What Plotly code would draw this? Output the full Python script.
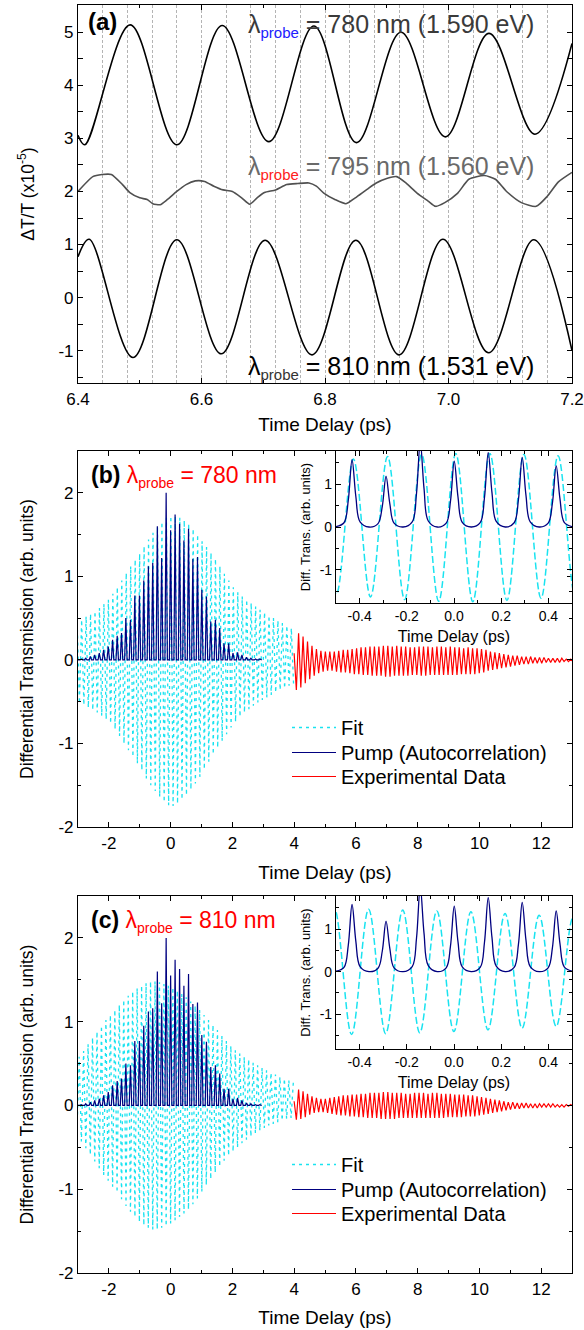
import plotly.graph_objects as go

W, H = 584, 1330

# ---------------- panel (a): 6.4-7.2 ps window ----------------
a780_t = [6.400, 6.411, 6.4845, 6.560, 6.6335, 6.709, 6.782, 6.851, 6.923, 6.995, 7.0655, 7.140, 7.200]
a780_y = [3.06, 2.88, 5.14, 2.88, 5.13, 2.94, 5.12, 2.92, 5.00, 3.03, 4.98, 3.08, 4.79]

a810_t = [6.400, 6.418, 6.489, 6.560, 6.632, 6.703, 6.779, 6.850, 6.920, 6.991, 7.065, 7.138, 7.200]
a810_y = [0.77, 1.10, -1.13, 1.09, -1.06, 1.08, -1.08, 1.08, -1.08, 1.10, -1.04, 1.09, -1.00]

a795_t = [6.400, 6.424, 6.439, 6.454, 6.472, 6.484, 6.500, 6.512, 6.521, 6.533, 6.545, 6.560,
          6.575, 6.590, 6.605, 6.620, 6.635, 6.650, 6.665, 6.678, 6.690, 6.702, 6.720, 6.738,
          6.756, 6.774, 6.786, 6.798, 6.816, 6.834, 6.849, 6.868, 6.883, 6.901, 6.916, 6.931,
          6.949, 6.967, 6.979, 6.994, 7.015, 7.033, 7.058, 7.076, 7.094, 7.118, 7.142, 7.160,
          7.178, 7.200]
a795_y = [2.00, 2.28, 2.32, 2.32, 2.13, 1.98, 1.88, 1.85, 1.77, 1.75, 1.85, 2.00,
          2.13, 2.20, 2.19, 2.10, 2.03, 2.00, 1.88, 1.76, 1.88, 1.98, 2.03, 2.13,
          2.15, 2.16, 2.10, 1.97, 1.85, 1.77, 1.88, 2.04, 2.16, 2.25, 2.28, 2.16,
          1.97, 1.82, 1.72, 1.79, 1.97, 2.23, 2.30, 2.23, 2.00, 1.79, 1.72, 1.91,
          2.18, 2.36]

# ---------------- panels (b) and (c) ----------------
PERIOD = 0.1445  # oscillation period (ps)

pump_t = [-2.89, -2.75, -2.60, -2.46, -2.31, -2.17, -2.02, -1.88, -1.73, -1.59,
          -1.45, -1.30, -1.16, -1.01, -0.87, -0.72, -0.58, -0.43, -0.29, -0.145,
          0.0, 0.145, 0.29, 0.43, 0.58, 0.72, 0.87, 1.01, 1.16, 1.30,
          1.45, 1.59, 1.73, 1.88, 2.02, 2.17, 2.31, 2.46, 2.60, 2.75, 2.89]
pump_h = [0.01, 0.02, 0.04, 0.06, 0.08, 0.12, 0.16, 0.24, 0.29, 0.32,
          0.50, 0.48, 0.77, 0.77, 0.95, 1.12, 1.16, 1.60, 1.22, 2.00,
          1.55, 1.74, 1.63, 1.43, 1.57, 1.21, 1.23, 0.84, 0.76, 0.46,
          0.48, 0.38, 0.20, 0.20, 0.08, 0.09, 0.06, 0.03, 0.02, 0.01, 0.01]

inset_pump_t = [-0.500, -0.466, -0.448, -0.432, -0.416, -0.398, -0.360,
                -0.322, -0.304, -0.288, -0.272, -0.254, -0.216,
                -0.177, -0.159, -0.143, -0.127, -0.109, -0.071,
                -0.033, -0.015, 0.001, 0.017, 0.035, 0.073,
                0.111, 0.129, 0.145, 0.161, 0.179, 0.217,
                0.255, 0.273, 0.289, 0.305, 0.323, 0.361,
                0.399, 0.417, 0.433, 0.449, 0.467, 0.500]
inset_pump_y = [0.01, 0.10, 0.62, 1.58, 0.72, 0.12, 0.00,
                0.08, 0.48, 1.19, 0.55, 0.09, 0.00,
                0.12, 0.78, 2.00, 0.90, 0.14, 0.00,
                0.09, 0.60, 1.54, 0.70, 0.11, 0.00,
                0.10, 0.68, 1.74, 0.80, 0.13, 0.00,
                0.10, 0.64, 1.63, 0.74, 0.12, 0.00,
                0.09, 0.56, 1.43, 0.66, 0.11, 0.01]

# fit (b): first extremum is a peak at -3.027 ps
fit_b_t0 = -3.027
fit_b_peaks = [0.46, 0.48, 0.52, 0.55, 0.58, 0.62, 0.67, 0.72, 0.79, 0.87,
               0.95, 1.04, 1.12, 1.20, 1.27, 1.36, 1.44, 1.52, 1.59, 1.65,
               1.70, 1.72, 1.72, 1.70, 1.67, 1.63, 1.57, 1.50, 1.42, 1.35,
               1.28, 1.21, 1.12, 1.03, 0.95, 0.87, 0.81, 0.76, 0.72, 0.68,
               0.64, 0.60, 0.57, 0.53, 0.50, 0.47, 0.44, 0.41, 0.38]
fit_b_troughs = [-0.52, -0.54, -0.57, -0.60, -0.63, -0.67, -0.71, -0.76, -0.83, -0.91,
                 -1.00, -1.08, -1.16, -1.24, -1.32, -1.42, -1.50, -1.57, -1.64, -1.70,
                 -1.74, -1.75, -1.72, -1.67, -1.62, -1.55, -1.48, -1.40, -1.31, -1.22,
                 -1.13, -1.05, -0.97, -0.89, -0.81, -0.74, -0.68, -0.63, -0.59, -0.55,
                 -0.51, -0.48, -0.45, -0.42, -0.39, -0.36, -0.34, -0.31, -0.29]

# fit (c): first extremum is a trough at -3.035 ps
fit_c_t0 = -3.035
fit_c_troughs = [-0.36, -0.43, -0.51, -0.59, -0.67, -0.75, -0.83, -0.90, -0.97, -1.04,
                 -1.12, -1.20, -1.27, -1.33, -1.39, -1.43, -1.46, -1.48, -1.48, -1.46,
                 -1.44, -1.41, -1.37, -1.33, -1.29, -1.24, -1.18, -1.11, -1.03, -0.95,
                 -0.88, -0.80, -0.73, -0.66, -0.60, -0.55, -0.50, -0.45, -0.41, -0.37,
                 -0.33, -0.30, -0.27, -0.24, -0.22, -0.20, -0.18, -0.16, -0.15]
fit_c_peaks = [0.58, 0.65, 0.73, 0.81, 0.88, 0.95, 1.02, 1.08, 1.14, 1.20,
               1.26, 1.31, 1.36, 1.40, 1.43, 1.46, 1.48, 1.48, 1.47, 1.45,
               1.43, 1.41, 1.37, 1.33, 1.29, 1.24, 1.19, 1.14, 1.08, 1.02,
               0.96, 0.90, 0.83, 0.77, 0.71, 0.66, 0.62, 0.58, 0.55, 0.51,
               0.48, 0.45, 0.42, 0.39, 0.37, 0.34, 0.32, 0.30, 0.27]

# experimental data, 4-13 ps (peak first, then trough half a period later)
exp_t0 = 4.0
exp_b_peaks = [0.08, 0.32, 0.28, 0.22, 0.17, 0.13, 0.11, 0.10, 0.10, 0.10,
               0.11, 0.12, 0.12, 0.13, 0.14, 0.15, 0.15, 0.16, 0.16, 0.16,
               0.17, 0.17, 0.16, 0.17, 0.16, 0.16, 0.15, 0.15, 0.16, 0.16,
               0.16, 0.15, 0.16, 0.16, 0.15, 0.16, 0.15, 0.15, 0.14, 0.15,
               0.14, 0.14, 0.13, 0.12, 0.10, 0.09, 0.08, 0.07, 0.06, 0.05,
               0.05, 0.04, 0.04, 0.04, 0.03, 0.03, 0.03, 0.02, 0.02, 0.02,
               0.02, 0.01, 0.01]
exp_b_troughs = [-0.36, -0.33, -0.28, -0.23, -0.19, -0.16, -0.14, -0.13, -0.13, -0.14,
                 -0.15, -0.15, -0.16, -0.17, -0.17, -0.18, -0.18, -0.19, -0.19, -0.19,
                 -0.20, -0.20, -0.19, -0.19, -0.19, -0.19, -0.18, -0.18, -0.19, -0.19,
                 -0.18, -0.18, -0.18, -0.18, -0.18, -0.18, -0.18, -0.17, -0.17, -0.17,
                 -0.17, -0.16, -0.15, -0.13, -0.12, -0.11, -0.10, -0.09, -0.08, -0.07,
                 -0.06, -0.05, -0.05, -0.04, -0.04, -0.04, -0.03, -0.03, -0.03, -0.03,
                 -0.02, -0.02, -0.02]
exp_c_peaks = [0.05, 0.19, 0.17, 0.14, 0.11, 0.09, 0.08, 0.08, 0.09, 0.10,
               0.11, 0.12, 0.12, 0.13, 0.13, 0.14, 0.14, 0.15, 0.15, 0.15,
               0.16, 0.16, 0.15, 0.15, 0.15, 0.14, 0.14, 0.15, 0.15, 0.15,
               0.14, 0.15, 0.15, 0.14, 0.14, 0.14, 0.13, 0.13, 0.13, 0.12,
               0.12, 0.11, 0.10, 0.09, 0.08, 0.07, 0.06, 0.05, 0.04, 0.04,
               0.03, 0.03, 0.03, 0.02, 0.02, 0.02, 0.02, 0.02, 0.02, 0.01,
               0.01, 0.01, 0.01]
exp_c_troughs = [-0.17, -0.16, -0.14, -0.11, -0.09, -0.08, -0.08, -0.09, -0.10, -0.11,
                 -0.12, -0.12, -0.13, -0.13, -0.14, -0.14, -0.15, -0.15, -0.15, -0.16,
                 -0.16, -0.16, -0.16, -0.15, -0.15, -0.15, -0.15, -0.15, -0.15, -0.15,
                 -0.15, -0.15, -0.15, -0.15, -0.14, -0.14, -0.14, -0.14, -0.13, -0.13,
                 -0.13, -0.12, -0.11, -0.10, -0.09, -0.08, -0.07, -0.06, -0.05, -0.04,
                 -0.04, -0.03, -0.03, -0.03, -0.03, -0.02, -0.02, -0.02, -0.02, -0.02,
                 -0.02, -0.01, -0.01]

pump_span = [-3.0, 2.95]

CYAN = '#19E3F0'
NAVY = '#000080'
RED = '#FF0000'
FONT = 'Liberation Sans, Arial, sans-serif'


def px(x):
    return x / W


def py(y):
    return 1 - y / H


def zigzag(t0, first, second):
    xs, ys = [], []
    for k, (a, b) in enumerate(zip(first, second)):
        xs += [t0 + k * PERIOD, t0 + (k + 0.5) * PERIOD]
        ys += [a, b]
    return xs, ys


def spikes(times, heights, span, half=0.04):
    xs, ys = [span[0]], [0]
    for t, h in zip(times, heights):
        xs += [t - half, t, t + half]
        ys += [0, h, 0]
    xs.append(span[1])
    ys.append(0)
    return xs, ys


def ticks(vals, fmt='{:g}'):
    return dict(tickmode='array', tickvals=vals, ticktext=[fmt.format(v) for v in vals])


fig = go.Figure()

# panel (a)
fig.add_trace(go.Scatter(x=a780_t, y=a780_y, mode='lines', line=dict(color='black', width=1.6, shape='spline'),
                         xaxis='x', yaxis='y', showlegend=False))
fig.add_trace(go.Scatter(x=a795_t, y=a795_y, mode='lines', line=dict(color='#505050', width=1.6, shape='spline', smoothing=0.6),
                         xaxis='x', yaxis='y', showlegend=False))
fig.add_trace(go.Scatter(x=a810_t, y=a810_y, mode='lines', line=dict(color='black', width=1.6, shape='spline'),
                         xaxis='x', yaxis='y', showlegend=False))
# carrier for the dashed vertical grid of panel (a)
fig.add_trace(go.Scatter(x=[], y=[], xaxis='x6', yaxis='y', showlegend=False))


def add_panel(xa, ya, xi, yi, legends, fit_t0, fit_first, fit_second, exp_peaks, exp_troughs):
    fx, fy = zigzag(fit_t0, fit_first, fit_second)
    ex, ey = zigzag(exp_t0, exp_peaks, exp_troughs)
    sx, sy = spikes(pump_t, pump_h, pump_span)
    fig.add_trace(go.Scatter(x=fx, y=fy, mode='lines', name='Fit', legend=legends[0],
                             line=dict(color=CYAN, width=1.3, dash='3px,4px'), xaxis=xa, yaxis=ya))
    fig.add_trace(go.Scatter(x=sx, y=sy, mode='lines', name='Pump (Autocorrelation)', legend=legends[1],
                             line=dict(color=NAVY, width=1.2), xaxis=xa, yaxis=ya))
    fig.add_trace(go.Scatter(x=ex, y=ey, mode='lines', name='Experimental Data', legend=legends[2],
                             line=dict(color=RED, width=1.2), xaxis=xa, yaxis=ya))
    # inset
    fig.add_trace(go.Scatter(x=fx, y=fy, mode='lines', showlegend=False,
                             line=dict(color=CYAN, width=1.5, dash='7px,3px', shape='spline'), xaxis=xi, yaxis=yi))
    fig.add_trace(go.Scatter(x=inset_pump_t, y=inset_pump_y, mode='lines', showlegend=False,
                             line=dict(color=NAVY, width=1.3, shape='spline'), xaxis=xi, yaxis=yi))


add_panel('x2', 'y2', 'x3', 'y3', ['legend', 'legend2', 'legend3'],
          fit_b_t0, fit_b_peaks, fit_b_troughs, exp_b_peaks, exp_b_troughs)
add_panel('x4', 'y4', 'x5', 'y5', ['legend4', 'legend5', 'legend6'],
          fit_c_t0, fit_c_troughs, fit_c_peaks, exp_c_peaks, exp_c_troughs)

base = dict(showline=True, linecolor='black', linewidth=1.2, mirror='allticks', ticks='inside',
            ticklen=5, tickwidth=1, tickcolor='black', showgrid=False, zeroline=False, automargin=False,
            tickfont=dict(size=17, color='black', family=FONT))


def minor(d, length=3):
    return dict(tickmode='linear', tick0=0, dtick=d, ticks='inside', ticklen=length, tickcolor='black', showgrid=False)


def legend_row(row_y):
    return dict(x=px(287), y=py(row_y - 20), xanchor='left', yanchor='top', font=dict(size=20, family=FONT),
                bgcolor='rgba(0,0,0,0)', itemwidth=44, borderwidth=0)


main_x = [px(78), px(572)]
inset_x = [px(336), px(572)]
title_font = dict(size=19, color='black', family=FONT)
ytitle_font = dict(size=17.5, color='black', family=FONT)
inset_title_font = dict(size=16, color='black', family=FONT)
inset_tick_font = dict(size=14, color='black', family=FONT)

fig.update_layout(
    width=W, height=H, margin=dict(l=0, r=0, t=0, b=0),
    paper_bgcolor='white', plot_bgcolor='rgba(0,0,0,0)',
    font=dict(family=FONT, color='black'), hovermode=False,
    xaxis=dict(base, domain=main_x, anchor='y', range=[6.4, 7.2], **ticks([6.4, 6.6, 6.8, 7.0, 7.2], '{:.1f}'),
               minor=minor(0.1), title=dict(text='Time Delay (ps)', font=title_font, standoff=10)),
    yaxis=dict(base, domain=[py(383), py(5)], anchor='x', range=[-1.61, 5.515], **ticks([-1, 0, 1, 2, 3, 4, 5]),
               minor=minor(0.5), title=dict(text='ΔT/T (x10<sup>-5</sup>)', font=ytitle_font, standoff=19)),
    xaxis6=dict(overlaying='x', anchor='y', range=[6.4, 7.2], tickmode='linear', tick0=6.4, dtick=0.04,
                showgrid=True, gridcolor='#b4b4b4', griddash='3px,2px', gridwidth=0.8, automargin=False,
                showticklabels=False, ticks='', showline=False, zeroline=False),
    xaxis2=dict(base, domain=main_x, anchor='y2', range=[-3, 13], **ticks([-2, 0, 2, 4, 6, 8, 10, 12]),
                minor=minor(1), title=dict(text='Time Delay (ps)', font=title_font, standoff=14)),
    yaxis2=dict(base, domain=[py(827), py(451)], anchor='x2', range=[-2, 2.5], **ticks([-2, -1, 0, 1, 2]),
                minor=minor(0.5), title=dict(text='Differential Transmission (arb. units)', font=ytitle_font, standoff=20)),
    xaxis3=dict(base, domain=inset_x, anchor='y3', range=[-0.5, 0.5], **ticks([-0.4, -0.2, 0.0, 0.2, 0.4], '{:.1f}'),
                minor=minor(0.1), tickfont=inset_tick_font,
                title=dict(text='Time Delay (ps)', font=inset_title_font, standoff=7)),
    yaxis3=dict(base, domain=[py(603), py(451)], anchor='x3', range=[-1.78, 1.78], **ticks([-1, 0, 1]),
                minor=minor(0.5), tickfont=inset_tick_font,
                title=dict(text='Diff. Trans. (arb. units)', font=dict(size=13, color='black', family=FONT), standoff=6)),
    xaxis4=dict(base, domain=main_x, anchor='y4', range=[-3, 13], **ticks([-2, 0, 2, 4, 6, 8, 10, 12]),
                minor=minor(1), title=dict(text='Time Delay (ps)', font=title_font, standoff=13)),
    yaxis4=dict(base, domain=[py(1273), py(896)], anchor='x4', range=[-2, 2.5], **ticks([-2, -1, 0, 1, 2]),
                minor=minor(0.5), title=dict(text='Differential Transmission (arb. units)', font=ytitle_font, standoff=20)),
    xaxis5=dict(base, domain=inset_x, anchor='y5', range=[-0.5, 0.5], **ticks([-0.4, -0.2, 0.0, 0.2, 0.4], '{:.1f}'),
                minor=minor(0.1), tickfont=inset_tick_font,
                title=dict(text='Time Delay (ps)', font=inset_title_font, standoff=7)),
    yaxis5=dict(base, domain=[py(1049), py(896)], anchor='x5', range=[-1.82, 1.78], **ticks([-1, 0, 1]),
                minor=minor(0.5), tickfont=inset_tick_font,
                title=dict(text='Diff. Trans. (arb. units)', font=dict(size=13, color='black', family=FONT), standoff=6)),
    legend=legend_row(728), legend2=legend_row(753), legend3=legend_row(777),
    legend4=legend_row(1165), legend5=legend_row(1190), legend6=legend_row(1214),
)


def note(x, y, text, size, color='black', anchor='middle'):
    fig.add_annotation(x=px(x), y=py(y), xref='paper', yref='paper', xanchor='left', yanchor=anchor,
                       text=text, showarrow=False, font=dict(size=size, color=color, family=FONT))


note(86, 22, '<b>(a)</b>', 24)
note(246, 25, "λ<sub><span style='color:#2020ff;font-size:15px'>probe</span></sub> = 780 nm (1.590 eV)", 25, '#3a3a3a')
note(246, 167, "λ<sub><span style='color:#ff2020;font-size:15px'>probe</span></sub> = 795 nm (1.560 eV)", 25, '#6a6a6a')
note(246, 367, "λ<sub><span style='color:#333333;font-size:15px'>probe</span></sub> = 810 nm (1.531 eV)", 25, 'black')
note(89, 477, "<b>(b)</b> <span style='color:red'>λ<sub><span style='font-size:14px'>probe</span></sub> = 780 nm</span>", 23)
note(89, 922, "<b>(c)</b> <span style='color:red'>λ<sub><span style='font-size:14px'>probe</span></sub> = 810 nm</span>", 23)

# plotly's page template keeps the browser's default 8px body margin; drop it so the
# figure sits at the window origin
fig.write_html("out.html", config={'displayModeBar': False},
               post_script="document.body.style.margin='0px';")
